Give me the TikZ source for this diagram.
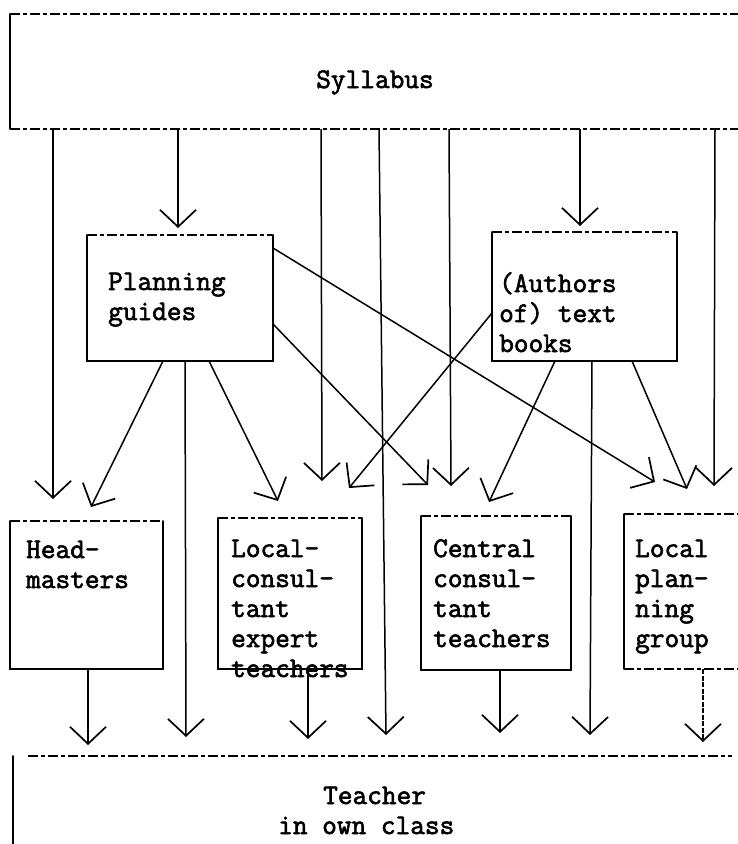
\documentclass[tikz,border=0pt]{standalone}
\usepackage{fontspec}
\newfontfamily\tw{Latin Modern Mono}[FakeBold=2.2]
\usetikzlibrary{arrows.meta}
\begin{document}
\begin{tikzpicture}[x=1pt,y=-1pt,
  side/.style={line width=1.6pt, line cap=round},
  dashedge/.style={line width=1.4pt, dash pattern=on 10pt off 3pt on 4pt off 3pt},
  arr/.style={line width=1.5pt, -{Straight Barb[length=17pt,width=36pt,line width=1.7pt]}},
  dotarr/.style={arr, dash pattern=on 5pt off 1.5pt},
  box/.style={draw=none, rectangle, inner sep=0pt, outer sep=0pt},
  lbl/.style={font=\tw\fontsize{28.5}{30}\selectfont, inner sep=0pt, align=left, anchor=base west},
]
\useasboundingbox (0,0) rectangle (738,844);
\clip (0,0) rectangle (738,844);

% boxes
\node[box, minimum width=735pt, minimum height=115pt] (syl) at (377.5,71.5) {};
\node[box, minimum width=186pt, minimum height=126pt] (pg) at (180,298) {};
\node[box, minimum width=185pt, minimum height=129pt] (au) at (584.5,296.5) {};
\node[box, minimum width=153pt, minimum height=148pt] (hm) at (86.5,595) {};
\node[box, minimum width=144pt, minimum height=151pt] (lc) at (290,593.5) {};
\node[box, minimum width=150pt, minimum height=154pt] (cc) at (496,593) {};
\node[box, minimum width=130pt, minimum height=155pt] (lp) at (689,591.5) {};
\node[box, minimum width=735pt, minimum height=100pt] (tc) at (380.5,806) {};

% box outlines
\draw[side] (syl.north west) -- (syl.south west);
\draw[dashedge] (syl.north west) -- (syl.north east);
\draw[dashedge] (syl.south west) -- (syl.south east);

\foreach \b in {pg,au,hm,lc,cc}{
  \draw[side] (\b.north west) -- (\b.south west) -- (\b.south east) -- (\b.north east);
  \draw[dashedge] (\b.north west) -- (\b.north east);
}
\draw[side] (lp.north west) -- (lp.south west);
\draw[dashedge] (lp.north west) -- (lp.north east);
\draw[dashedge] (lp.south west) -- (lp.south east);

\draw[side] (tc.north west) -- (tc.south west);
\draw[dashedge] ([xshift=15pt]tc.north west) -- ([xshift=-16pt]tc.north east);

% texts (anchor base = baseline of the last line)
\node[lbl, anchor=base] (tsyl) at (375,88) {Syllabus};
\node[lbl] (tpg) at (108,320) {Planning\\guides};
\node[lbl] (tau) at (499,352) {(Authors\\of) text\\books};
\node[lbl] (thm) at (26,588) {Head-\\masters};
\node[lbl] (tlc) at (231,677) {Local-\\consul-\\tant\\expert\\teachers};
\node[lbl] (tcc) at (433,647) {Central\\consul-\\tant\\teachers};
\node[lbl] (tlp) at (635,647) {Local\\plan-\\ning\\group};
\node[lbl] (ttc) at (278,834) {\hspace*{45pt}Teacher\\in own class};

% arrow end points
\coordinate (e1) at (53,499);
\coordinate (e2) at (178,228);
\coordinate (e3) at (322,481);
\coordinate (e4) at (386,735);
\coordinate (e5) at (451,486);
\coordinate (e6) at (580,226);
\coordinate (e7) at (714,486);
\coordinate (p1) at (655,482);
\coordinate (p2) at (428,485);
\coordinate (p3) at (91,507);
\coordinate (p4) at (186,737);
\coordinate (p5) at (278,501);
\coordinate (a1) at (349,488);
\coordinate (a2) at (489,502);
\coordinate (a3) at (590,735);
\coordinate (a4) at (687,489);
\coordinate (b1) at (88,745);
\coordinate (b2) at (308,739);
\coordinate (b3) at (500,733);
\coordinate (b4) at (703,742);

% from Syllabus
\draw[arr] (syl.south -| 53,0) -- (e1);
\draw[arr] (syl.south -| 178,0) -- (e2);
\draw[arr] (syl.south -| 321,0) -- (e3);
\draw[arr] (syl.south -| 379,0) -- (e4);
\draw[arr] (syl.south -| 449,0) -- (e5);
\draw[arr] (syl.south -| 580,0) -- (e6);
\draw[arr] (syl.south -| 715,0) -- (e7);

% from Planning guides
\draw[arr] ([yshift=-13pt]pg.north east) -- (p1);
\draw[arr] ([yshift=-89pt]pg.north east) -- (p2);
\draw[arr] (pg.south -| 163,0) -- (p3);
\draw[arr] (pg.south -| 185,0) -- (p4);
\draw[arr] (pg.south -| 209,0) -- (p5);

% from text books
\draw[arr] ([yshift=-81pt]au.north west) -- (a1);
\draw[arr] (au.south -| 555,0) -- (a2);
\draw[arr] (au.south -| 592,0) -- (a3);
\draw[arr] (au.south -| 632,0) -- (a4);

% to teacher
\draw[arr] (hm.south -| 88,0) -- (b1);
\draw[arr] (lc.south -| 308,0) -- (b2);
\draw[arr] (cc.south -| 500,0) -- (b3);
\draw[dotarr] (lp.south -| 703,0) -- (b4);
\end{tikzpicture}
\end{document}
